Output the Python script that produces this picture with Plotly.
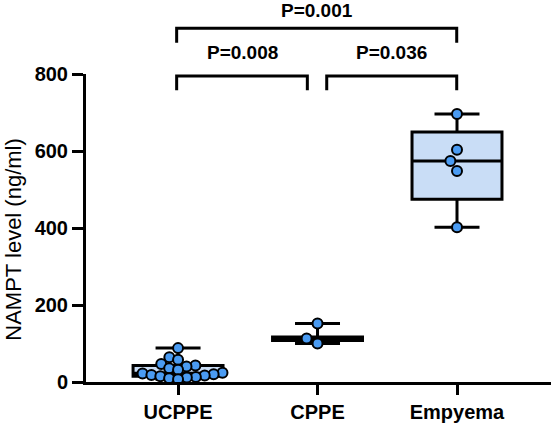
import numpy as np
import plotly.graph_objects as go

# ---- data ----
groups = ["UCPPE", "CPPE", "Empyema"]
ucppe = [88, 64, 58, 47, 43, 40, 36, 32, 24, 22, 20, 18, 17, 15, 13, 12, 10, 7]
cppe = [152, 113, 100]
empyema = [696, 603, 574, 548, 402]
q1 = [15, 108, 475]
median = [23, 113, 574]
q3 = [43, 117, 649.5]
lowerfence = [7, 100, 402]
upperfence = [88, 152, 696]
comparisons = [(0, 1, "P=0.008"), (1, 2, "P=0.036"), (0, 2, "P=0.001")]
y_ticks = [0, 200, 400, 600, 800]
y_title = "NAMPT level (ng/ml)"

FONT = "Liberation Sans, Arial, sans-serif"
Y_MAX = 800
PX_PER_Y = 308 / Y_MAX
PX_PER_X = 139.5


def swarm(vals, d):
    placed = []
    offs = [0.0] * len(vals)
    order = sorted(range(len(vals)), key=lambda i: vals[i])
    for i in order:
        y = vals[i] * PX_PER_Y
        cands = [0.0]
        for xj, yj in placed:
            dy = abs(y - yj)
            if dy < d:
                dx = np.sqrt(d * d - dy * dy)
                cands += [xj - dx, xj + dx]
        cands.sort(key=abs)
        chosen = 0.0
        for c in cands:
            if all((c - xj) ** 2 + (y - yj) ** 2 >= d * d - 1e-6 for xj, yj in placed):
                chosen = c
                break
        placed.append((chosen, y))
        offs[i] = chosen / PX_PER_X
    return offs


fig = go.Figure()
fig.add_trace(go.Box(
    x=[0, 1, 2], q1=q1, median=median, q3=q3,
    lowerfence=lowerfence, upperfence=upperfence,
    width=0.645, whiskerwidth=0.5, boxpoints=False,
    fillcolor="#c9ddf6", line=dict(color="black", width=3),
    showlegend=False, hoverinfo="skip",
))

for gi, vals in enumerate([ucppe, cppe, empyema]):
    offs = swarm(vals, 9.0 if gi == 0 else 12.0)
    fig.add_trace(go.Scatter(
        x=[gi + o for o in offs], y=vals, mode="markers",
        marker=dict(size=10, color="#4a9bf2", line=dict(color="black", width=2)),
        cliponaxis=False, showlegend=False,
    ))

# significance brackets (in paper units: 1.0 == top of y axis)
for a, b, label in comparisons:
    if (a, b) == (0, 2):
        top, bot, ty = 919, 881, 966
    else:
        top, bot, ty = 795, 758, 855
    x0 = -0.01 if a == 0 else 1.066
    x1 = 0.927 if b == 1 else 1.998
    t, bt = top / Y_MAX, bot / Y_MAX
    fig.add_shape(type="path",
                  path=f"M {x0} {bt} L {x0} {t} L {x1} {t} L {x1} {bt}",
                  xref="x", yref="paper", line=dict(color="black", width=3))
    fig.add_annotation(x=(x0 + x1) / 2, y=ty / Y_MAX,
                       xref="x", yref="paper", text=label, showarrow=False,
                       font=dict(family=FONT, size=19, color="black", weight="bold"),
                       yanchor="middle")

# y-axis title as rotated annotation
fig.add_annotation(x=-0.155, y=0.465, xref="paper", yref="paper", text=y_title,
                   textangle=-90, showarrow=False, xanchor="center", yanchor="middle",
                   font=dict(family=FONT, size=22, color="black"))

fig.update_layout(
    width=553, height=426,
    margin=dict(l=86, r=2, t=74, b=44),
    plot_bgcolor="white", paper_bgcolor="white",
    font=dict(family=FONT, color="black"),
)
fig.update_xaxes(
    range=[-0.66, 2.674], tickvals=[0, 1, 2], ticktext=groups,
    showgrid=False, zeroline=False, showline=True, linecolor="black", linewidth=3,
    ticks="outside", ticklen=10, tickwidth=3, tickcolor="black",
    tickfont=dict(family=FONT, size=20, color="black", weight="bold"),
)
fig.update_yaxes(
    range=[0, Y_MAX], tickvals=y_ticks,
    showgrid=False, zeroline=False, showline=True, linecolor="black", linewidth=3,
    ticks="outside", ticklen=11, tickwidth=3, tickcolor="black",
    tickfont=dict(family=FONT, size=20, color="black", weight="bold"),
)

fig.write_html("out.html", config={"displayModeBar": False},
               post_script="document.body.style.margin='0';")
